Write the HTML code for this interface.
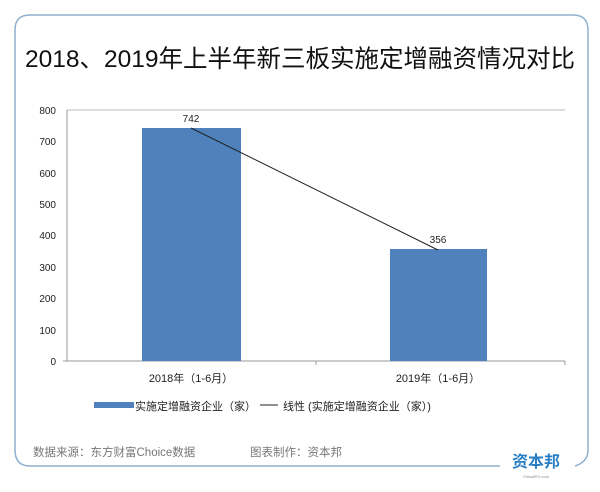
<!DOCTYPE html><html><head><meta charset="utf-8"><style>
body{margin:0;background:#fff;width:600px;height:487px;overflow:hidden;font-family:"Liberation Sans","Noto Sans CJK SC",sans-serif}
</style></head><body>
<svg width="600" height="487" viewBox="0 0 600 487" xmlns="http://www.w3.org/2000/svg" style="font-family:'Liberation Sans','Noto Sans CJK SC',sans-serif">
<path d="M500 466 L30 466 Q15 466 15 450 L15 30 Q15 15 30 15 L573 15 Q588 15 588 30 L588 450 Q588 462 575 466" fill="none" stroke="#8fb0cf" stroke-width="1.5"/>
<text x="300" y="67" text-anchor="middle" font-size="24.5" fill="#111">2018、2019年上半年新三板实施定增融资情况对比</text>
<line x1="67" y1="110" x2="565" y2="110" stroke="#bbb"/>
<line x1="67" y1="110" x2="67" y2="361" stroke="#999"/>
<line x1="63" y1="361" x2="565" y2="361" stroke="#999"/>
<line x1="316" y1="361" x2="316" y2="365" stroke="#999"/>
<line x1="565" y1="361" x2="565" y2="365" stroke="#999"/>
<g font-size="10" fill="#222" text-anchor="end">
<text x="56" y="114">800</text><text x="56" y="145">700</text><text x="56" y="177">600</text><text x="56" y="208">500</text><text x="56" y="239">400</text><text x="56" y="271">300</text><text x="56" y="302">200</text><text x="56" y="334">100</text><text x="56" y="365">0</text>
</g>
<rect x="142" y="128" width="99" height="233" fill="#4f81bd"/>
<rect x="390" y="249" width="97" height="112" fill="#4f81bd"/>
<line x1="191" y1="128" x2="438" y2="250" stroke="#222" stroke-width="1"/>
<text x="191" y="122" text-anchor="middle" font-size="10" fill="#222">742</text>
<text x="438" y="243" text-anchor="middle" font-size="10" fill="#222">356</text>
<text x="191" y="382" text-anchor="middle" font-size="11" fill="#222">2018年（1-6月）</text>
<text x="438" y="382" text-anchor="middle" font-size="11" fill="#222">2019年（1-6月）</text>
<rect x="94" y="402" width="40" height="6" fill="#4f81bd"/>
<text x="135" y="410" font-size="11" fill="#222">实施定增融资企业（家）</text>
<line x1="260" y1="405" x2="278" y2="405" stroke="#222"/>
<text x="283" y="410" font-size="11" fill="#222">线性 (实施定增融资企业（家）)</text>
<text x="33" y="456" font-size="11.5" fill="#777">数据来源：东方财富Choice数据</text>
<text x="250" y="456" font-size="11.5" fill="#777">图表制作：资本邦</text>
<text x="536" y="467" text-anchor="middle" font-size="16" font-weight="bold" fill="#2a7fc4">资本邦</text>
<text x="536" y="478" text-anchor="middle" font-size="4" fill="#888">ChinaIPO.com</text>
</svg>
</body></html>
